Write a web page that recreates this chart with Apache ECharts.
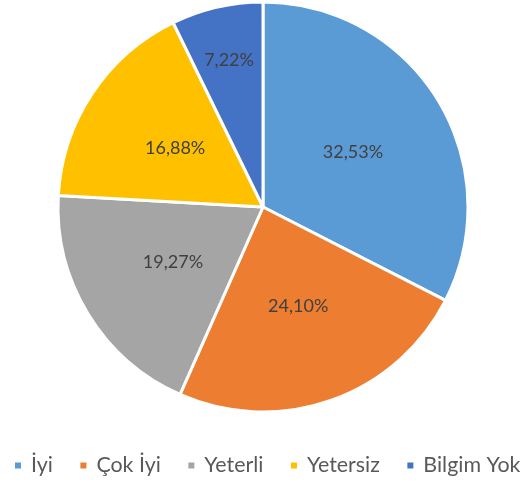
<!DOCTYPE html>
<html><head><meta charset="utf-8">
<script src="https://cdn.jsdelivr.net/npm/echarts@6/dist/echarts.min.js"></script>
<style>html,body{margin:0;padding:0;background:#fff}#c{width:523px;height:481px}</style>
</head><body><div id="c"></div>
<script>
const categories = ['İyi', 'Çok İyi', 'Yeterli', 'Yetersiz', 'Bilgim Yok'];
const values = [32.53, 24.10, 19.27, 16.88, 7.22];
const colors = ['#5B9BD5', '#ED7D31', '#A5A5A5', '#FFC000', '#4472C4'];
const fmt = p => p.value.toFixed(2).replace('.', ',') + '%';
const labelStyle = {position: 'inside', formatter: fmt, fontFamily: 'Lato', fontSize: 18, color: '#404040'};
const smallLimit = 10;
const chart = echarts.init(document.getElementById('c'), null, {renderer: 'canvas'});
chart.setOption({
  animation: false,
  color: colors,
  legend: {
    bottom: 0,
    left: 8,
    width: 560,
    padding: 5,
    icon: 'rect',
    itemWidth: 8,
    itemHeight: 8,
    itemGap: 25.5,
    textStyle: {fontFamily: 'Lato', fontSize: 21.4, color: '#595959', padding: [0, 0, 0, 4]},
    data: categories.map((c, i) => ({name: c, itemStyle: {color: colors[i]}}))
  },
  series: [{
    type: 'pie',
    center: [263, 207],
    radius: [0, 205],
    startAngle: 90,
    clockwise: true,
    itemStyle: {borderColor: '#fff', borderWidth: 3},
    label: labelStyle,
    labelLine: {show: false},
    data: categories.map((c, i) => ({name: c, value: values[i], label: {show: values[i] >= smallLimit}}))
  }, {
    type: 'pie',
    silent: true,
    center: [263, 207],
    radius: [91, 205],
    startAngle: 90,
    clockwise: true,
    itemStyle: {color: 'rgba(0,0,0,0)'},
    label: labelStyle,
    labelLine: {show: false},
    data: categories.map((c, i) => ({name: c, value: values[i], label: {show: values[i] < smallLimit}}))
  }]
});
</script></body></html>
